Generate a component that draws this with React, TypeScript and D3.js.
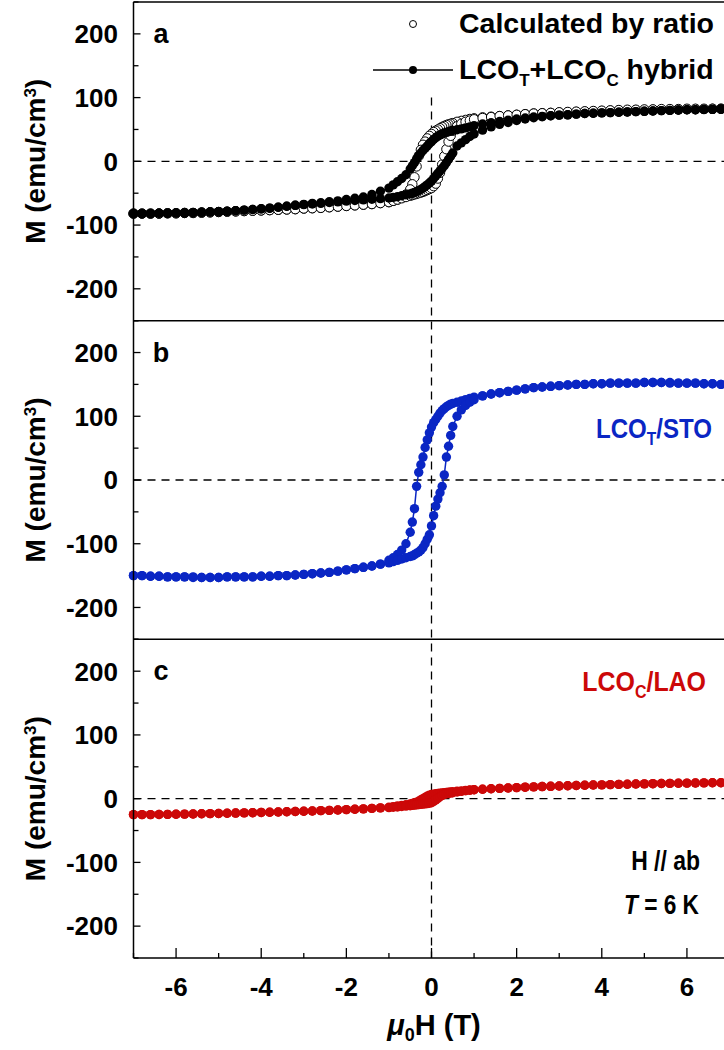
import React from 'react';
import * as d3 from 'd3';

// Applied field grid (T), descending sweep order +7 -> -7
const fieldDown = [
  7.0, 6.8, 6.6, 6.4, 6.2, 6.0, 5.8, 5.6, 5.4, 5.2,
  5.0, 4.8, 4.6, 4.4, 4.2, 4.0, 3.8, 3.6, 3.4, 3.2,
  3.0, 2.8, 2.6, 2.4, 2.2, 2.0, 1.8, 1.6, 1.4, 1.2,
  1.0, 0.9, 0.8, 0.7, 0.6,
  0.5, 0.45, 0.4, 0.35, 0.3, 0.25, 0.2, 0.15, 0.1, 0.05, 0, -0.05, -0.1, -0.15, -0.2, -0.25, -0.3, -0.35, -0.4, -0.45, -0.5,
  -0.6, -0.7, -0.8, -0.9, -1.0,
  -1.2, -1.4, -1.6, -1.8, -2.0, -2.2, -2.4, -2.6, -2.8, -3.0,
  -3.2, -3.4, -3.6, -3.8, -4.0, -4.2, -4.4, -4.6, -4.8, -5.0,
  -5.2, -5.4, -5.6, -5.8, -6.0, -6.2, -6.4, -6.6, -6.8, -7.0,
];
// ascending sweep order -7 -> +7
const fieldUp = [...fieldDown].reverse();

// Panel a: calculated by ratio (open circles)
const ratioDown = [
  82.5, 82.5, 82.5, 82, 82, 82, 81.5, 81.5, 81, 81,
  80.5, 80.5, 80, 80, 79.5, 79, 78.5, 78, 77.5, 77,
  76.5, 76, 75.5, 75, 74, 73, 72, 71, 70, 69,
  67.5, 66.5, 65, 63.5, 62,
  60, 59, 58, 57, 55.5, 54, 52, 50, 48, 46, 43, 40, 36, 31, 26, 18, 8, -8, -25, -36, -44,
  -52, -57, -60, -62, -64,
  -65.5, -67, -68, -69, -70, -71, -72, -73, -73.5, -74,
  -75, -75.5, -76, -76.5, -77, -77.5, -78, -78.5, -79, -79.5,
  -80, -80.5, -81, -81, -81.5, -81.5, -82, -82, -82, -82,
];
const ratioUp = [
  -82, -82, -82, -82, -81.5, -81.5, -81, -81, -80.5, -80,
  -79.5, -79, -78.5, -78, -77.5, -77, -76.5, -76, -75.5, -75,
  -74, -73.5, -73, -72, -71, -70, -69, -68, -67, -65.5,
  -64, -62, -60, -58, -56,
  -54, -53, -52, -51, -50, -49, -48, -46.5, -45, -43.5, -42, -39, -35, -27, -18, -5, 8, 19, 31, 40, 48,
  55, 59, 62, 64, 66,
  68, 69.5, 71, 72, 73, 74, 75, 75.5, 76, 77,
  77.5, 78, 78.5, 79, 79.5, 80, 80.5, 81, 81, 81.5,
  81.5, 82, 82, 82, 82.5, 82.5, 82.5, 82.5, 82.5, 82.5,
];

// Panel a: LCO_T + LCO_C hybrid (filled black)
const hybridDown = [
  82, 82, 81.5, 81.5, 81, 81, 80.5, 80, 79.5, 79,
  78.5, 78, 77.5, 77, 76.5, 76, 75.5, 75, 74, 73,
  72.5, 71.5, 70.5, 69.5, 68, 66.5, 64.5, 62.5, 60.5, 58.5,
  56, 54, 52.5, 51, 49.5,
  48.5, 47.5, 46.5, 45.5, 44.5, 43, 41.5, 39.5, 37, 34.5, 31, 28, 24, 20.5, 17, 13, 9, 4, -2, -7, -12,
  -21, -27, -32, -37, -42,
  -47, -52, -56, -58, -60, -62, -63.5, -65, -66, -67.5,
  -69, -70.5, -72, -73.5, -74.5, -75.5, -76.5, -77.5, -78.5, -79,
  -79.5, -80, -80.5, -81, -81, -81.5, -81.5, -82, -82, -82,
];
const hybridUp = [
  -82, -82, -82, -81.5, -81.5, -81, -81, -80.5, -80, -79.5,
  -79, -78.5, -77.5, -76.5, -75.5, -74.5, -73.5, -72, -70.5, -69,
  -68, -67, -66, -64.5, -63.5, -62.5, -61.5, -60.5, -59.5, -58.5,
  -57.5, -56.5, -55.5, -54, -52.5,
  -51, -50, -49, -47.5, -46, -44, -42, -39.5, -37, -34, -31, -27, -23, -19, -15, -11, -7, -2, 3, 8, 13,
  24, 29, 34, 39, 43,
  49, 54, 58, 61, 64, 66.5, 68.5, 70, 71.5, 72.5,
  73, 74, 75, 75.5, 76, 76.5, 77, 77.5, 78, 78.5,
  79, 79.5, 80, 80.5, 81, 81, 81.5, 81.5, 82, 82,
];

// Panel b: LCO_T / STO
const stoDown = [
  150, 150, 151, 151, 152, 152, 152, 153, 153, 153,
  153, 152, 152, 152, 152, 151, 151, 150, 150, 149,
  148, 147, 146, 145, 143, 141, 139, 137, 135, 132,
  130, 128, 126, 124, 122,
  120, 119, 117, 115, 112, 109, 105, 100, 95, 90, 83, 74, 63, 51, 36, 24, 12, -10, -45, -66, -82,
  -100, -110, -117, -122, -126,
  -132, -135, -137, -139, -141, -143, -145, -146, -147, -148,
  -149, -150, -150, -151, -151, -152, -152, -152, -152, -153,
  -153, -153, -152, -152, -152, -152, -151, -151, -150, -150,
];
const stoUp = [
  -150, -150, -151, -151, -152, -152, -152, -153, -153, -153,
  -153, -152, -152, -152, -152, -151, -151, -150, -150, -149,
  -148, -147, -146, -145, -143, -141, -139, -137, -135, -132,
  -130, -128, -126, -124, -122,
  -120, -119, -117, -115, -113, -110, -106, -100, -93, -86, -72, -56, -41, -30, -20, -10, 8, 36, 53, 70, 84,
  100, 110, 117, 122, 126,
  132, 135, 137, 139, 141, 143, 145, 146, 147, 148,
  149, 150, 150, 151, 151, 152, 152, 152, 152, 153,
  153, 153, 152, 152, 152, 152, 151, 151, 150, 150,
];

// Panel c: LCO_C / LAO
const laoDown = [
  25, 25, 25, 24.8, 24.6, 24.4, 24.2, 24, 23.8, 23.5,
  23.2, 23, 22.7, 22.4, 22, 21.7, 21.4, 21, 20.6, 20.2,
  19.8, 19.4, 19, 18.5, 18, 17.4, 16.8, 16.2, 15.5, 14.8,
  14, 13.5, 13, 12.3, 11.6,
  11, 10.6, 10.2, 9.8, 9.4, 9, 8.6, 8.2, 7.7, 7.2, 6.6, 5.5, 4, 2, 0, -2, -4, -5.5, -6.5, -7.5, -8.2,
  -9.5, -10.5, -11.5, -12.5, -13.5,
  -14.5, -15.2, -16, -16.6, -17.2, -17.8, -18.3, -18.8, -19.3, -19.7,
  -20.1, -20.5, -20.9, -21.3, -21.6, -22, -22.3, -22.6, -22.9, -23.2,
  -23.5, -23.7, -24, -24.2, -24.4, -24.6, -24.8, -25, -25, -25,
];
const laoUp = [
  -25, -25, -25, -24.8, -24.6, -24.4, -24.2, -24, -23.7, -23.5,
  -23.2, -22.9, -22.6, -22.3, -22, -21.6, -21.3, -20.9, -20.5, -20.1,
  -19.7, -19.3, -18.8, -18.3, -17.8, -17.2, -16.6, -16, -15.2, -14.5,
  -14, -13.5, -13, -12.3, -11.6,
  -11, -10.6, -10.2, -9.8, -9.4, -9, -8.6, -8.2, -7.7, -7.2, -6.3, -4.5, -2, 0.5, 3, 5, 6.5, 7.5, 8.2, 8.8, 9.4,
  10.5, 11.5, 12.5, 13.2, 14,
  14.8, 15.5, 16.2, 16.8, 17.4, 18, 18.5, 19, 19.4, 19.8,
  20.2, 20.6, 21, 21.4, 21.7, 22, 22.4, 22.7, 23, 23.2,
  23.5, 23.8, 24, 24.2, 24.4, 24.6, 24.8, 25, 25, 25,
];

const xTicks = [-6, -4, -2, 0, 2, 4, 6];
const xMinorTicks = [-7, -5, -3, -1, 1, 3, 5, 7];
const yTicks = [-200, -100, 0, 100, 200];
const yMinorTicks = [-250, -150, -50, 50, 150, 250];
const panelLetters = ['a', 'b', 'c'];

const FONT = "'Liberation Sans', Arial, sans-serif";
const BLUE = '#0a26c4';
const RED = '#cc0808';

export default function App() {
  const W = 724;
  const H = 1050;
  const left = 133.5;
  const right = 729.5;
  const top = 2;
  const bottom = 958;
  const panelH = (bottom - top) / 3;

  const x = d3.scaleLinear().domain([-7, 7]).range([left, right]);
  const ys = [0, 1, 2].map((i) =>
    d3.scaleLinear().domain([-250, 250]).range([top + (i + 1) * panelH, top + i * panelH])
  );

  const pts = (f: number[], m: number[]) => d3.zip(f, m) as [number, number][];

  const lineFor = (y: d3.ScaleLinear<number, number>) =>
    d3
      .line<[number, number]>()
      .x((d) => x(d[0]))
      .y((d) => y(d[1]));

  const r = 4.7;

  const renderAxes = (i: number) => {
    const y = ys[i];
    return (
      <g key={'ax' + i}>
        <line x1={left} x2={W} y1={y(0)} y2={y(0)} stroke="#000" strokeWidth={1.3} strokeDasharray="8,6" />
        {yTicks.map((t) => (
          <g key={'yt' + t}>
            <line x1={left} x2={left + 7} y1={y(t)} y2={y(t)} stroke="#000" strokeWidth={1.3} />
            <text
              x={118}
              y={y(t)}
              dy="0.36em"
              textAnchor="end"
              fontFamily={FONT}
              fontWeight="bold"
              fontSize={26}
            >
              {t}
            </text>
          </g>
        ))}
        {yMinorTicks.map((t) => (
          <line key={'ym' + t} x1={left} x2={left + 5} y1={y(t)} y2={y(t)} stroke="#000" strokeWidth={1.3} />
        ))}
        <text
          transform={`translate(35, ${(y.range()[0] + y.range()[1]) / 2}) rotate(-90)`}
          textAnchor="middle"
          dy="0.36em"
          fontFamily={FONT}
          fontWeight="bold"
          fontSize={28}
        >
          M (emu/cm
          <tspan baselineShift="super" fontSize={17}>3</tspan>
          <tspan>)</tspan>
        </text>
        <text x={161} y={y(250) + 41} textAnchor="middle" fontFamily={FONT} fontWeight="bold" fontSize={27}>
          {panelLetters[i]}
        </text>
      </g>
    );
  };

  const yA = ys[0];
  const yB = ys[1];
  const yC = ys[2];

  const narrow = (tx: number, ty: number, sx: number, content: React.ReactNode, fill = '#000', size = 28) => (
    <g transform={`translate(${tx}, ${ty}) scale(${sx}, 1)`}>
      <text x={0} y={0} textAnchor="end" fill={fill} fontFamily={FONT} fontWeight="bold" fontSize={size}>
        {content}
      </text>
    </g>
  );

  return (
    <svg
      width={W}
      height={H}
      style={{ position: 'absolute', left: 0, top: 0, background: '#fff' }}
      xmlns="http://www.w3.org/2000/svg"
    >
      <rect x={0} y={0} width={W} height={H} fill="#fff" />
      {[0, 1, 2].map(renderAxes)}

      <line x1={x(0)} x2={x(0)} y1={yA(100)} y2={bottom} stroke="#000" strokeWidth={1.3} strokeDasharray="8,6" />

      {/* Panel a: calculated by ratio (open) */}
      <g>
        {[...pts(fieldDown, ratioDown), ...pts(fieldUp, ratioUp)].map((d, k) => (
          <circle key={'ro' + k} cx={x(d[0])} cy={yA(d[1])} r={r} fill="#fff" stroke="#000" strokeWidth={1} />
        ))}
      </g>
      {/* Panel a: hybrid (filled black + line) */}
      <g>
        <path d={lineFor(yA)(pts(fieldDown, hybridDown)) || ''} fill="none" stroke="#000" strokeWidth={1.2} />
        <path d={lineFor(yA)(pts(fieldUp, hybridUp)) || ''} fill="none" stroke="#000" strokeWidth={1.2} />
        {[...pts(fieldDown, hybridDown), ...pts(fieldUp, hybridUp)].map((d, k) => (
          <circle key={'hb' + k} cx={x(d[0])} cy={yA(d[1])} r={r} fill="#000" />
        ))}
      </g>

      {/* Panel b: STO */}
      <g>
        <path d={lineFor(yB)(pts(fieldDown, stoDown)) || ''} fill="none" stroke={BLUE} strokeWidth={1.5} />
        <path d={lineFor(yB)(pts(fieldUp, stoUp)) || ''} fill="none" stroke={BLUE} strokeWidth={1.5} />
        {[...pts(fieldDown, stoDown), ...pts(fieldUp, stoUp)].map((d, k) => (
          <circle key={'st' + k} cx={x(d[0])} cy={yB(d[1])} r={r} fill={BLUE} />
        ))}
      </g>

      {/* Panel c: LAO */}
      <g>
        <path d={lineFor(yC)(pts(fieldDown, laoDown)) || ''} fill="none" stroke={RED} strokeWidth={1.5} />
        <path d={lineFor(yC)(pts(fieldUp, laoUp)) || ''} fill="none" stroke={RED} strokeWidth={1.5} />
        {[...pts(fieldDown, laoDown), ...pts(fieldUp, laoUp)].map((d, k) => (
          <circle key={'la' + k} cx={x(d[0])} cy={yC(d[1])} r={r} fill={RED} />
        ))}
      </g>

      {/* frame */}
      <line x1={left} x2={left} y1={top} y2={bottom} stroke="#000" strokeWidth={1.5} />
      {[0, 1, 2, 3].map((i) => (
        <line key={'hf' + i} x1={left} x2={W} y1={top + i * panelH} y2={top + i * panelH} stroke="#000" strokeWidth={1.5} />
      ))}

      {/* x ticks on bottom */}
      {xTicks.map((t) => (
        <g key={'xt' + t}>
          <line x1={x(t)} x2={x(t)} y1={bottom} y2={bottom - 10} stroke="#000" strokeWidth={1.3} />
          <text x={x(t)} y={996} textAnchor="middle" fontFamily={FONT} fontWeight="bold" fontSize={26}>
            {t}
          </text>
        </g>
      ))}
      {xMinorTicks.map((t) => (
        <line key={'xm' + t} x1={x(t)} x2={x(t)} y1={bottom} y2={bottom - 5} stroke="#000" strokeWidth={1.3} />
      ))}
      <text x={434} y={1035} textAnchor="middle" fontFamily={FONT} fontWeight="bold" fontSize={29}>
        <tspan fontStyle="italic">μ</tspan>
        <tspan dy={6} fontSize={18}>0</tspan>
        <tspan dy={-6}>H (T)</tspan>
      </text>

      {/* legend */}
      <circle cx={413} cy={24} r={3.5} fill="#fff" stroke="#000" strokeWidth={1} />
      <text x={459} y={33} fontFamily={FONT} fontWeight="bold" fontSize={28.5}>
        Calculated by ratio
      </text>
      <line x1={373} x2={453} y1={70} y2={70} stroke="#000" strokeWidth={1.5} />
      <circle cx={413} cy={70} r={4} fill="#000" />
      <text x={459} y={79} fontFamily={FONT} fontWeight="bold" fontSize={28.5}>
        LCO<tspan dy={7} fontSize={17}>T</tspan>
        <tspan dy={-7}>+LCO</tspan>
        <tspan dy={7} fontSize={17}>C</tspan>
        <tspan dy={-7}> hybrid</tspan>
      </text>

      {/* series labels */}
      {narrow(
        712,
        438,
        0.86,
        <>
          LCO<tspan dy={7} fontSize={18}>T</tspan>
          <tspan dy={-7}>/STO</tspan>
        </>,
        BLUE
      )}
      {narrow(
        706,
        691,
        0.89,
        <>
          LCO<tspan dy={7} fontSize={18}>C</tspan>
          <tspan dy={-7}>/LAO</tspan>
        </>,
        RED
      )}
      {narrow(700, 870, 0.82, <>H // ab</>)}
      {narrow(
        699,
        914,
        0.81,
        <>
          <tspan fontStyle="italic">T</tspan> = 6 K
        </>
      )}
    </svg>
  );
}
